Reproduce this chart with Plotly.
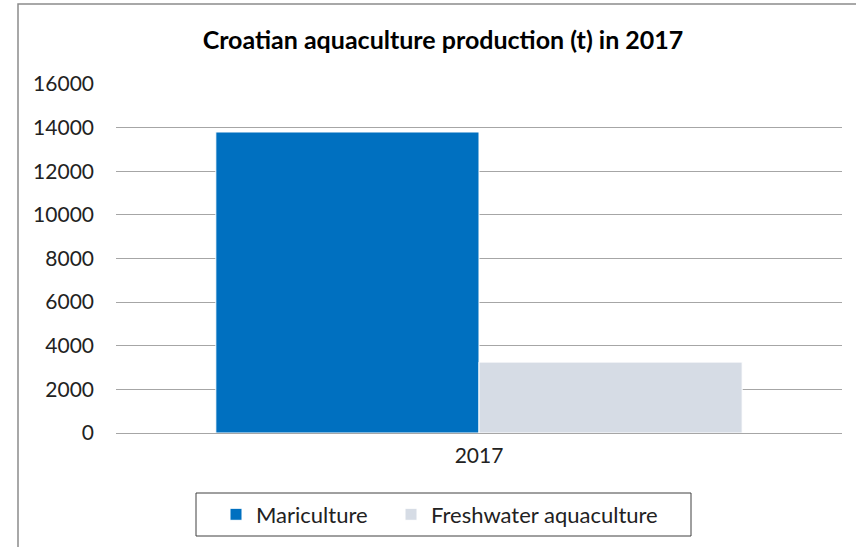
import plotly.graph_objects as go

categories = ["2017"]
series_names = ["Mariculture", "Freshwater aquaculture"]
mariculture = [13800]
freshwater = [3250]
colors = ["#0070C0", "#D6DCE5"]
y_ticks = [0, 2000, 4000, 6000, 8000, 10000, 12000, 14000, 16000]

W, H = 856, 547
ml, mr, mt, mb = 116, 14, 84, 114
pw = W - ml - mr
ph = H - mt - mb


def px_x(x):
    return (x - ml) / pw


def px_y(y):
    return (mt + ph - y) / ph


fig = go.Figure()
for name, vals, c, lg in zip(series_names, [mariculture, freshwater], colors,
                             ["legend", "legend2"]):
    fig.add_trace(go.Bar(x=categories, y=vals, name=name, marker_color=c,
                         marker_line=dict(color="white", width=1), legend=lg))

font = "Lato, 'Open Sans', sans-serif"
legend_common = dict(orientation="h", xanchor="left", y=px_y(514.5),
                     yanchor="middle", borderwidth=0, bgcolor="rgba(0,0,0,0)",
                     font=dict(family=font, size=22, color="#222222"))
fig.update_layout(
    width=W, height=H,
    margin=dict(l=ml, r=mr, t=mt, b=mb, autoexpand=False),
    paper_bgcolor="white", plot_bgcolor="white",
    barmode="group", bargap=0.275, bargroupgap=0.0,
    title=dict(text="<b>Croatian aquaculture production (t) in 2017</b>",
               x=443 / W, xanchor="center", y=1 - 40 / H, yanchor="middle",
               font=dict(family=font, size=25, color="#000000")),
    font=dict(family=font, size=21, color="#222222"),
    showlegend=True,
    legend=dict(x=px_x(216), **legend_common),
    legend2=dict(x=px_x(391), **legend_common),
    xaxis=dict(showgrid=False, showline=False, ticks="", tickfont=dict(size=21),
               ticklabelstandoff=8),
    yaxis=dict(range=[0, 16000], tickvals=y_ticks, tickformat="d", showgrid=True,
               gridcolor="#A6A6A6", gridwidth=1, zeroline=True,
               zerolinecolor="#A6A6A6", zerolinewidth=1, showline=False,
               ticks="", ticklabelstandoff=21, tickfont=dict(size=21)),
)

# outer chart frame (top and left edges visible, right/bottom cut off)
fig.add_shape(type="rect", xref="paper", yref="paper",
              x0=px_x(18), x1=px_x(W + 20), y0=px_y(H + 20), y1=px_y(4),
              line=dict(color="#8C8C8C", width=1.5), fillcolor="rgba(0,0,0,0)",
              layer="below")
# legend box
fig.add_shape(type="rect", xref="paper", yref="paper",
              x0=px_x(196), x1=px_x(691), y0=px_y(536), y1=px_y(493),
              line=dict(color="#404040", width=1), fillcolor="rgba(0,0,0,0)",
              layer="below")

fig.write_html(
    "out.html",
    config={"displayModeBar": False},
    post_script="document.body.style.margin='0';document.documentElement.style.overflow='hidden';",
)
